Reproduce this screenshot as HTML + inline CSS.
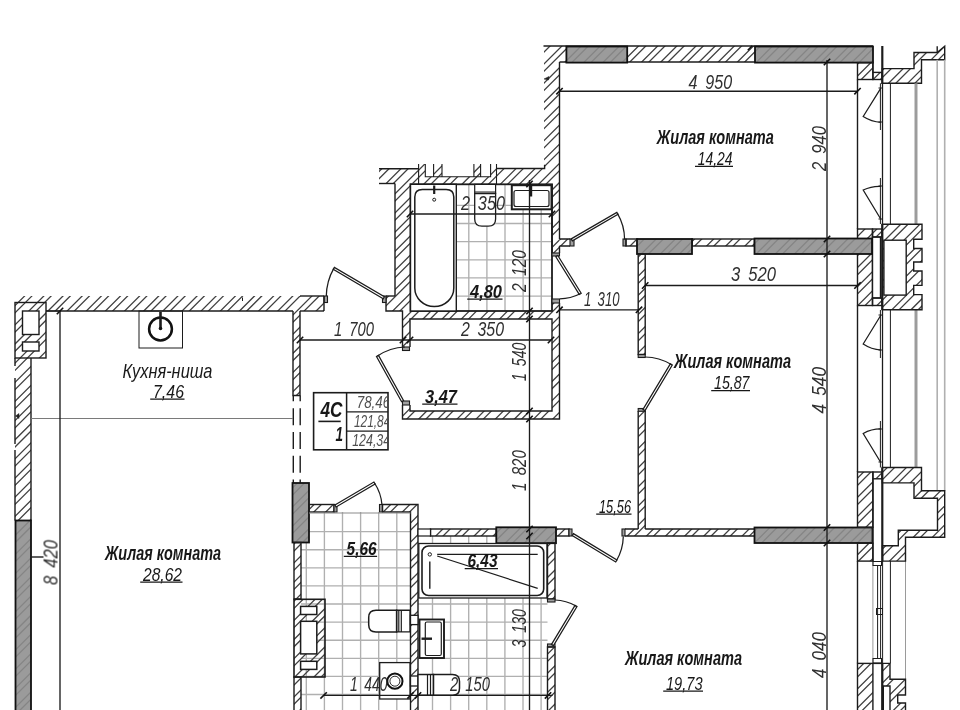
<!DOCTYPE html>
<html><head><meta charset="utf-8"><title>Plan</title>
<style>
html,body{margin:0;padding:0;background:#fff;}
body{width:960px;height:710px;overflow:hidden;font-family:"Liberation Sans",sans-serif;}
svg{display:block}
text{font-family:"Liberation Sans",sans-serif;font-style:italic;}
</style></head><body>
<svg width="960" height="710" viewBox="0 0 960 710">
<defs>
<clipPath id="cw">
<path d="M544,46 L559.5,46 L559.5,184 L552,184 L552,168.5 L544.6,168.5 L544.6,164.7 L544,164.7 Z"/>
<rect x="544" y="46" width="329" height="16"/>
<rect x="857.5" y="62.6" width="15.4" height="16.9"/>
<rect x="872.9" y="72.4" width="9.1" height="7.1"/>
<path d="M882.3,68.6 L914,68.6 L914,52.5 L937.2,52.5 L944.7,46.3 L944.7,59.8 L921.5,59.8 L921.5,83.3 L882.3,83.3 Z"/>
<rect x="857.5" y="229" width="15.0" height="76.5"/>
<rect x="872.5" y="229" width="9.5" height="8"/>
<rect x="872.5" y="298" width="9.5" height="7.5"/>
<path d="M882.3,224.2 L922,224.2 L922,239.3 L913.7,239.3 L913.7,248.5 L922,248.5 L922,262 L913.7,262 L913.7,271 L922,271 L922,285.4 L913.7,285.4 L913.7,294.6 L922,294.6 L922,309.7 L882.3,309.7 Z"/>
<rect x="559.5" y="239" width="10.5" height="7"/>
<rect x="626" y="239" width="11.5" height="7"/>
<rect x="692" y="239" width="62.5" height="7"/>
<rect x="638.2" y="254" width="7.0" height="100.5"/>
<rect x="638.2" y="411" width="7.0" height="118"/>
<rect x="625" y="529" width="129.5" height="7"/>
<rect x="857.5" y="472" width="15.4" height="55.3"/>
<rect x="872.9" y="472" width="9.1" height="6.8"/>
<rect x="857.5" y="543.2" width="15.4" height="17.9"/>
<path d="M882.5,545.7 L898.3,545.7 L898.3,530.3 L937.5,530.3 L937.5,498.3 L914,498.3 L914,482.9 L882.3,482.9 L882.3,467.5 L921.5,467.5 L921.5,490.8 L944.7,490.8 L944.7,537.3 L905.5,537.3 L905.5,561.1 L882.5,561.1 Z"/>
<rect x="857.5" y="663.4" width="15.4" height="48.6"/>
<path d="M882.3,663.4 L890,663.4 L890,679.3 L905.5,679.3 L905.5,695 L897.7,695 L897.7,703 L905.5,703 L905.5,712 L890,712 L890,686 L883.3,686 L883.3,712 L882.3,712 Z"/>
<rect x="379" y="168.8" width="39.6" height="14.7"/>
<path d="M418.6,164 L425.3,164 L425.3,176.8 L433.6,176.8 L433.6,164 L442,164 L442,176.8 L473.9,176.8 L473.9,164 L480.6,164 L480.6,176.8 L490.6,176.8 L490.6,164 L496.5,164 L496.5,184 L418.6,184 Z"/>
<rect x="496.5" y="168.5" width="55.5" height="15.5"/>
<rect x="395" y="182" width="16" height="129"/>
<rect x="552" y="184" width="7.5" height="69"/>
<rect x="552" y="303" width="7.5" height="8"/>
<rect x="410" y="311" width="142" height="8"/>
<rect x="552" y="303" width="7.5" height="116"/>
<rect x="386" y="296" width="24" height="15"/>
<rect x="402.5" y="311" width="7.5" height="36"/>
<rect x="402.5" y="405" width="7.5" height="14"/>
<rect x="402.5" y="411" width="157.0" height="8"/>
<rect x="15" y="296" width="309" height="15"/>
<rect x="15" y="302.5" width="31" height="55.5"/>
<rect x="15" y="358" width="16" height="162.5"/>
<rect x="293" y="311" width="7" height="84.5"/>
<rect x="294" y="542.5" width="7" height="56.5"/>
<rect x="294" y="677" width="7" height="35"/>
<rect x="309" y="504.5" width="25" height="7.5"/>
<path d="M382.5,504.5 L418,504.5 L418,529 L418,712 L410.5,712 L410.5,512 L382.5,512 Z"/>
<rect x="294" y="599.3" width="31" height="77.7"/>
<rect x="430.5" y="529" width="65.8" height="7"/>
<rect x="556" y="529" width="13" height="7"/>
<rect x="547.5" y="543" width="7.5" height="56"/>
<rect x="547.5" y="647" width="7.5" height="65"/>
</clipPath>
<path id="hl" d="M15.3,-1 L-1,15.3 M34.45,-1 L-1,34.45 M53.6,-1 L-1,53.6 M72.75,-1 L-1,72.75 M91.9,-1 L-1,91.9 M111.05,-1 L-1,111.05 M130.2,-1 L-1,130.2 M149.35,-1 L-1,149.35 M168.5,-1 L-1,168.5 M187.65,-1 L-1,187.65 M206.8,-1 L-1,206.8 M225.95,-1 L-1,225.95 M245.1,-1 L-1,245.1 M264.25,-1 L-1,264.25 M283.4,-1 L-1,283.4 M302.55,-1 L-1,302.55 M321.7,-1 L-1,321.7 M340.85,-1 L-1,340.85 M360.0,-1 L-1,360.0 M379.15,-1 L-1,379.15 M398.3,-1 L-1,398.3 M417.45,-1 L-1,417.45 M436.6,-1 L-1,436.6 M455.75,-1 L-1,455.75 M474.9,-1 L-1,474.9 M494.05,-1 L-1,494.05 M513.2,-1 L-1,513.2 M532.35,-1 L-1,532.35 M551.5,-1 L-1,551.5 M570.65,-1 L-1,570.65 M589.8,-1 L-1,589.8 M608.95,-1 L-1,608.95 M628.1,-1 L-1,628.1 M647.25,-1 L-1,647.25 M666.4,-1 L-1,666.4 M685.55,-1 L-1,685.55 M704.7,-1 L-1,704.7 M723.85,-1 L-1,723.85 M743.0,-1 L-1,743.0 M762.15,-1 L-1,762.15 M781.3,-1 L-1,781.3 M800.45,-1 L-1,800.45 M819.6,-1 L-1,819.6 M838.75,-1 L-1,838.75 M857.9,-1 L-1,857.9 M877.05,-1 L-1,877.05 M896.2,-1 L-1,896.2 M915.35,-1 L-1,915.35 M934.5,-1 L-1,934.5 M953.65,-1 L-1,953.65 M972.8,-1 L-1,972.8 M991.95,-1 L-1,991.95 M1011.1,-1 L-1,1011.1 M1030.25,-1 L-1,1030.25 M1049.4,-1 L-1,1049.4 M1068.55,-1 L-1,1068.55 M1087.7,-1 L-1,1087.7 M1106.85,-1 L-1,1106.85 M1126.0,-1 L-1,1126.0 M1145.15,-1 L-1,1145.15 M1164.3,-1 L-1,1164.3 M1183.45,-1 L-1,1183.45 M1202.6,-1 L-1,1202.6 M1221.75,-1 L-1,1221.75 M1240.9,-1 L-1,1240.9 M1260.05,-1 L-1,1260.05 M1279.2,-1 L-1,1279.2 M1298.35,-1 L-1,1298.35 M1317.5,-1 L-1,1317.5 M1336.65,-1 L-1,1336.65 M1355.8,-1 L-1,1355.8 M1374.95,-1 L-1,1374.95 M1394.1,-1 L-1,1394.1 M1413.25,-1 L-1,1413.25 M1432.4,-1 L-1,1432.4 M1451.55,-1 L-1,1451.55 M1470.7,-1 L-1,1470.7 M1489.85,-1 L-1,1489.85 M1509.0,-1 L-1,1509.0 M1528.15,-1 L-1,1528.15 M1547.3,-1 L-1,1547.3 M1566.45,-1 L-1,1566.45 M1585.6,-1 L-1,1585.6 M1604.75,-1 L-1,1604.75 M1623.9,-1 L-1,1623.9 M1643.05,-1 L-1,1643.05 M1662.2,-1 L-1,1662.2 M3.4,-1 L-1,3.4 M22.55,-1 L-1,22.55 M41.7,-1 L-1,41.7 M60.85,-1 L-1,60.85 M80.0,-1 L-1,80.0 M99.15,-1 L-1,99.15 M118.3,-1 L-1,118.3 M137.45,-1 L-1,137.45 M156.6,-1 L-1,156.6 M175.75,-1 L-1,175.75 M194.9,-1 L-1,194.9 M214.05,-1 L-1,214.05 M233.2,-1 L-1,233.2 M252.35,-1 L-1,252.35 M271.5,-1 L-1,271.5 M290.65,-1 L-1,290.65 M309.8,-1 L-1,309.8 M328.95,-1 L-1,328.95 M348.1,-1 L-1,348.1 M367.25,-1 L-1,367.25 M386.4,-1 L-1,386.4 M405.55,-1 L-1,405.55 M424.7,-1 L-1,424.7 M443.85,-1 L-1,443.85 M463.0,-1 L-1,463.0 M482.15,-1 L-1,482.15 M501.3,-1 L-1,501.3 M520.45,-1 L-1,520.45 M539.6,-1 L-1,539.6 M558.75,-1 L-1,558.75 M577.9,-1 L-1,577.9 M597.05,-1 L-1,597.05 M616.2,-1 L-1,616.2 M635.35,-1 L-1,635.35 M654.5,-1 L-1,654.5 M673.65,-1 L-1,673.65 M692.8,-1 L-1,692.8 M711.95,-1 L-1,711.95 M731.1,-1 L-1,731.1 M750.25,-1 L-1,750.25 M769.4,-1 L-1,769.4 M788.55,-1 L-1,788.55 M807.7,-1 L-1,807.7 M826.85,-1 L-1,826.85 M846.0,-1 L-1,846.0 M865.15,-1 L-1,865.15 M884.3,-1 L-1,884.3 M903.45,-1 L-1,903.45 M922.6,-1 L-1,922.6 M941.75,-1 L-1,941.75 M960.9,-1 L-1,960.9 M980.05,-1 L-1,980.05 M999.2,-1 L-1,999.2 M1018.35,-1 L-1,1018.35 M1037.5,-1 L-1,1037.5 M1056.65,-1 L-1,1056.65 M1075.8,-1 L-1,1075.8 M1094.95,-1 L-1,1094.95 M1114.1,-1 L-1,1114.1 M1133.25,-1 L-1,1133.25 M1152.4,-1 L-1,1152.4 M1171.55,-1 L-1,1171.55 M1190.7,-1 L-1,1190.7 M1209.85,-1 L-1,1209.85 M1229.0,-1 L-1,1229.0 M1248.15,-1 L-1,1248.15 M1267.3,-1 L-1,1267.3 M1286.45,-1 L-1,1286.45 M1305.6,-1 L-1,1305.6 M1324.75,-1 L-1,1324.75 M1343.9,-1 L-1,1343.9 M1363.05,-1 L-1,1363.05 M1382.2,-1 L-1,1382.2 M1401.35,-1 L-1,1401.35 M1420.5,-1 L-1,1420.5 M1439.65,-1 L-1,1439.65 M1458.8,-1 L-1,1458.8 M1477.95,-1 L-1,1477.95 M1497.1,-1 L-1,1497.1 M1516.25,-1 L-1,1516.25 M1535.4,-1 L-1,1535.4 M1554.55,-1 L-1,1554.55 M1573.7,-1 L-1,1573.7 M1592.85,-1 L-1,1592.85 M1612.0,-1 L-1,1612.0 M1631.15,-1 L-1,1631.15 M1650.3,-1 L-1,1650.3 M1669.45,-1 L-1,1669.45 "/>
</defs>
<rect width="960" height="710" fill="#fff"/>
<path d="M306.3,512 V710 M324.4,512 V710 M342.5,512 V710 M360.6,512 V710 M378.7,512 V710 M396.8,512 V710 M301,531.6 H410.5 M301,549.7 H410.5 M301,567.8 H410.5 M301,585.9 H410.5 M301,604.0 H410.5 M301,622.1 H410.5 M301,640.2 H410.5 M301,658.3 H410.5 M301,676.4 H410.5 M301,694.5 H410.5 " stroke="#b0b0b0" stroke-width="1.35" fill="none" class="tl"/>
<path d="M432.5,598 V710 M450.6,598 V710 M468.7,598 V710 M486.8,598 V710 M504.9,598 V710 M523.0,598 V710 M541.1,598 V710 M418,604.0 H547.5 M418,622.1 H547.5 M418,640.2 H547.5 M418,658.3 H547.5 M418,676.4 H547.5 M418,694.5 H547.5 " stroke="#b0b0b0" stroke-width="1.35" fill="none" class="tl"/>
<path d="M432.5,536 V544 M450.6,536 V544 M468.7,536 V544 M486.8,536 V544 M504.9,536 V544 M523.0,536 V544 M541.1,536 V544 " stroke="#b0b0b0" stroke-width="1.35" fill="none" class="tl"/>
<path d="M468.8,184 V311 M486.9,184 V311 M505.0,184 V311 M523.1,184 V311 M541.2,184 V311 M456,205.3 H552 M456,223.5 H552 M456,241.6 H552 M456,259.8 H552 M456,277.9 H552 M456,296.1 H552 " stroke="#b0b0b0" stroke-width="1.35" fill="none" class="tl"/>
<g clip-path="url(#cw)"><use href="#hl" stroke="#404040" stroke-width="1.3" fill="none"/></g>

<line x1="543.5" y1="46" x2="873" y2="46" stroke="#1c1c1c" stroke-width="1.4" />
<line x1="559.5" y1="62" x2="857.5" y2="62" stroke="#1c1c1c" stroke-width="1.4" />
<line x1="559.5" y1="62" x2="559.5" y2="239" stroke="#1c1c1c" stroke-width="1.4" />
<clipPath id="g1"><rect x="566.4" y="46.5" width="60.8" height="16.1"/></clipPath>
<rect x="566.4" y="46.5" width="60.8" height="16.1" fill="#9b9b9b"/>
<use href="#hl" clip-path="url(#g1)" stroke="#858585" stroke-width="1.3" fill="none"/>
<rect x="566.4" y="46.5" width="60.8" height="16.1" fill="none" stroke="#111" stroke-width="1.8"/>
<clipPath id="g2"><rect x="755" y="46.5" width="118" height="16.1"/></clipPath>
<rect x="755" y="46.5" width="118" height="16.1" fill="#9b9b9b"/>
<use href="#hl" clip-path="url(#g2)" stroke="#858585" stroke-width="1.3" fill="none"/>
<rect x="755" y="46.5" width="118" height="16.1" fill="none" stroke="#111" stroke-width="1.8"/>
<path d="M544,79 L549,76.5 L548.5,80 Z" stroke="#1c1c1c" stroke-width="0.5" fill="#222" />
<rect x="857.5" y="62.6" width="15.4" height="16.9" fill="none" stroke="#1c1c1c" stroke-width="1.4"/>
<rect x="872.9" y="72.4" width="9.1" height="7.1" fill="none" stroke="#1c1c1c" stroke-width="1.4"/>
<line x1="872.9" y1="62" x2="872.9" y2="72.4" stroke="#1c1c1c" stroke-width="1.4" />
<path d="M882.3,68.6 L914,68.6 L914,52.5 L937.2,52.5 L944.7,46.3 L944.7,59.8 L921.5,59.8 L921.5,83.3 L882.3,83.3 Z" fill="none" stroke="#1c1c1c" stroke-width="1.4"/>
<line x1="937.2" y1="46.3" x2="937.2" y2="52.5" stroke="#1c1c1c" stroke-width="1.4" />
<line x1="882.3" y1="46" x2="882.3" y2="84" stroke="#1c1c1c" stroke-width="2.2" />
<line x1="916" y1="83.3" x2="916" y2="224" stroke="#9c9c9c" stroke-width="3" />
<line x1="916" y1="310" x2="916" y2="467.5" stroke="#9c9c9c" stroke-width="3" />
<line x1="937.2" y1="59.8" x2="937.2" y2="490.8" stroke="#b0b0b0" stroke-width="1.6" />
<line x1="944.7" y1="59.8" x2="944.7" y2="490.8" stroke="#b0b0b0" stroke-width="1.6" />
<line x1="857.5" y1="79.5" x2="857.5" y2="229" stroke="#1c1c1c" stroke-width="1.4" />
<line x1="857.5" y1="305.5" x2="857.5" y2="472" stroke="#1c1c1c" stroke-width="1.4" />
<line x1="857.5" y1="561" x2="857.5" y2="663.4" stroke="#1c1c1c" stroke-width="1.4" />
<line x1="882.5" y1="83.3" x2="882.5" y2="224" stroke="#1c1c1c" stroke-width="1.3" />
<line x1="890.4" y1="83.3" x2="890.4" y2="224" stroke="#1c1c1c" stroke-width="1" />
<line x1="882.5" y1="310" x2="882.5" y2="467.5" stroke="#1c1c1c" stroke-width="1.3" />
<line x1="890.4" y1="310" x2="890.4" y2="467.5" stroke="#1c1c1c" stroke-width="1" />
<line x1="880.4" y1="83.3" x2="880.4" y2="130" stroke="#1c1c1c" stroke-width="1" />
<line x1="880.4" y1="178" x2="880.4" y2="224" stroke="#1c1c1c" stroke-width="1" />
<line x1="880.4" y1="310" x2="880.4" y2="358" stroke="#1c1c1c" stroke-width="1" />
<line x1="880.4" y1="421" x2="880.4" y2="467.5" stroke="#1c1c1c" stroke-width="1" />
<line x1="872.9" y1="561" x2="872.9" y2="663.4" stroke="#9a9a9a" stroke-width="1" />
<line x1="905.5" y1="561" x2="905.5" y2="679.3" stroke="#9a9a9a" stroke-width="1" />
<line x1="890.4" y1="561" x2="890.4" y2="663.4" stroke="#1c1c1c" stroke-width="1" />
<line x1="877.6" y1="566" x2="877.6" y2="659" stroke="#1c1c1c" stroke-width="1" />
<line x1="880.6" y1="566" x2="880.6" y2="659" stroke="#1c1c1c" stroke-width="1" />
<line x1="882.6" y1="561" x2="882.6" y2="663.4" stroke="#1c1c1c" stroke-width="1" />
<rect x="873" y="561.5" width="8.5" height="4.0" stroke="#1c1c1c" stroke-width="1" fill="none" />
<rect x="873" y="658.5" width="8.5" height="4.5" stroke="#1c1c1c" stroke-width="1" fill="none" />
<rect x="876.5" y="608.5" width="6.0" height="6.0" stroke="#1c1c1c" stroke-width="1" fill="none" />
<path d="M880.7,88.3 L863.2,116.5 A36,36 0 0 0 881,122.3" stroke="#1c1c1c" stroke-width="1.25" fill="none" />
<path d="M881,219.5 L863.2,190 A36,36 0 0 1 881,186.3" stroke="#1c1c1c" stroke-width="1.25" fill="none" />
<path d="M881,315 L863.2,344 A36,36 0 0 0 881,350" stroke="#1c1c1c" stroke-width="1.25" fill="none" />
<path d="M880.5,462 L863.2,433.5 A36,36 0 0 1 881,429" stroke="#1c1c1c" stroke-width="1.25" fill="none" />
<line x1="878.5" y1="88" x2="882.5" y2="88" stroke="#1c1c1c" stroke-width="1" />
<line x1="878.5" y1="122" x2="882.5" y2="122" stroke="#1c1c1c" stroke-width="1" />
<line x1="878.5" y1="186" x2="882.5" y2="186" stroke="#1c1c1c" stroke-width="1" />
<line x1="878.5" y1="219" x2="882.5" y2="219" stroke="#1c1c1c" stroke-width="1" />
<line x1="878.5" y1="315" x2="882.5" y2="315" stroke="#1c1c1c" stroke-width="1" />
<line x1="878.5" y1="350" x2="882.5" y2="350" stroke="#1c1c1c" stroke-width="1" />
<line x1="878.5" y1="429" x2="882.5" y2="429" stroke="#1c1c1c" stroke-width="1" />
<line x1="878.5" y1="462" x2="882.5" y2="462" stroke="#1c1c1c" stroke-width="1" />
<rect x="857.5" y="229" width="15.0" height="76.5" fill="none" stroke="#1c1c1c" stroke-width="1.4"/>
<rect x="872.5" y="237" width="8.0" height="61" stroke="#1c1c1c" stroke-width="1.4" fill="#fff" />
<rect x="872.5" y="229" width="9.5" height="8" fill="none" stroke="#1c1c1c" stroke-width="1.4"/>
<rect x="872.5" y="298" width="9.5" height="7.5" fill="none" stroke="#1c1c1c" stroke-width="1.4"/>
<path d="M882.3,224.2 L922,224.2 L922,239.3 L913.7,239.3 L913.7,248.5 L922,248.5 L922,262 L913.7,262 L913.7,271 L922,271 L922,285.4 L913.7,285.4 L913.7,294.6 L922,294.6 L922,309.7 L882.3,309.7 Z" fill="none" stroke="#1c1c1c" stroke-width="1.4"/>
<rect x="883.9" y="240.2" width="22.3" height="54.9" stroke="#1c1c1c" stroke-width="1.4" fill="#fff" />
<line x1="882.3" y1="224" x2="882.3" y2="310" stroke="#1c1c1c" stroke-width="2.2" />
<path d="M559.5,239 H570 M559.5,246 H570 M559.5,246 V253" stroke="#1c1c1c" stroke-width="1.4" fill="none" />
<rect x="570" y="239" width="4" height="7" stroke="#1c1c1c" stroke-width="1.1" fill="#a0a0a0" />
<rect x="623" y="239" width="3" height="7" stroke="#1c1c1c" stroke-width="1.1" fill="#a0a0a0" />
<rect x="626" y="239" width="11.5" height="7" fill="none" stroke="#1c1c1c" stroke-width="1.4"/>
<rect x="692" y="239" width="62.5" height="7" fill="none" stroke="#1c1c1c" stroke-width="1.4"/>
<clipPath id="g3"><rect x="637" y="239" width="55" height="15"/></clipPath>
<rect x="637" y="239" width="55" height="15" fill="#9b9b9b"/>
<use href="#hl" clip-path="url(#g3)" stroke="#858585" stroke-width="1.3" fill="none"/>
<rect x="637" y="239" width="55" height="15" fill="none" stroke="#111" stroke-width="1.8"/>
<clipPath id="g4"><rect x="754.5" y="238.5" width="117.5" height="15.5"/></clipPath>
<rect x="754.5" y="238.5" width="117.5" height="15.5" fill="#9b9b9b"/>
<use href="#hl" clip-path="url(#g4)" stroke="#858585" stroke-width="1.3" fill="none"/>
<rect x="754.5" y="238.5" width="117.5" height="15.5" fill="none" stroke="#111" stroke-width="1.8"/>
<path d="M571.22,238.91 L616.82,212.41 L617.98,214.39 L572.38,240.89 Z" fill="#fff" stroke="#1c1c1c" stroke-width="1.25"/>
<path d="M617.4,213.4 A52,52 0 0 1 624.6,239.4" fill="none" stroke="#1c1c1c" stroke-width="1.25"/>
<rect x="638.2" y="254" width="7.0" height="100.5" fill="none" stroke="#1c1c1c" stroke-width="1.4"/>
<rect x="638.2" y="354.5" width="7.0" height="3.0" stroke="#1c1c1c" stroke-width="1.1" fill="#999" />
<line x1="638.2" y1="411" x2="638.2" y2="529" stroke="#1c1c1c" stroke-width="1.4" />
<line x1="645.2" y1="411" x2="645.2" y2="529" stroke="#1c1c1c" stroke-width="1.4" />
<rect x="638.2" y="408.5" width="7.0" height="2.8" stroke="#1c1c1c" stroke-width="1.1" fill="#999" />
<path d="M643.01,409.41 L670.31,363.91 L672.29,365.09 L644.99,410.59 Z" fill="#fff" stroke="#1c1c1c" stroke-width="1.25"/>
<path d="M671.3,364.5 A52,52 0 0 0 645.2,357" fill="none" stroke="#1c1c1c" stroke-width="1.25"/>
<path d="M625,529 H638.2 M645.2,529 H754.5 M625,536 H754.5" stroke="#1c1c1c" stroke-width="1.4" fill="none" />
<rect x="622" y="529" width="3" height="7" stroke="#1c1c1c" stroke-width="1.1" fill="#a0a0a0" />
<clipPath id="g5"><rect x="754.5" y="527.5" width="118.0" height="15.5"/></clipPath>
<rect x="754.5" y="527.5" width="118.0" height="15.5" fill="#9b9b9b"/>
<use href="#hl" clip-path="url(#g5)" stroke="#858585" stroke-width="1.3" fill="none"/>
<rect x="754.5" y="527.5" width="118.0" height="15.5" fill="none" stroke="#111" stroke-width="1.8"/>
<rect x="857.5" y="472" width="15.4" height="55.3" fill="none" stroke="#1c1c1c" stroke-width="1.4"/>
<rect x="872.9" y="472" width="9.1" height="6.8" fill="none" stroke="#1c1c1c" stroke-width="1.4"/>
<line x1="872.9" y1="478.8" x2="872.9" y2="561" stroke="#1c1c1c" stroke-width="1.4" />
<rect x="857.5" y="543.2" width="15.4" height="17.9" fill="none" stroke="#1c1c1c" stroke-width="1.4"/>
<path d="M882.5,545.7 L898.3,545.7 L898.3,530.3 L937.5,530.3 L937.5,498.3 L914,498.3 L914,482.9 L882.3,482.9 L882.3,467.5 L921.5,467.5 L921.5,490.8 L944.7,490.8 L944.7,537.3 L905.5,537.3 L905.5,561.1 L882.5,561.1 Z" fill="none" stroke="#1c1c1c" stroke-width="1.4"/>
<line x1="882.3" y1="467.5" x2="882.3" y2="561.1" stroke="#1c1c1c" stroke-width="2.2" />
<rect x="857.5" y="663.4" width="15.4" height="48.6" fill="none" stroke="#1c1c1c" stroke-width="1.4"/>
<line x1="872.9" y1="663.4" x2="882" y2="663.4" stroke="#1c1c1c" stroke-width="1.4" />
<path d="M882.3,663.4 L890,663.4 L890,679.3 L905.5,679.3 L905.5,695 L897.7,695 L897.7,703 L905.5,703 L905.5,712 L890,712 L890,686 L883.3,686 L883.3,712 L882.3,712 Z" fill="none" stroke="#1c1c1c" stroke-width="1.4"/>
<line x1="882.3" y1="663.4" x2="882.3" y2="712" stroke="#1c1c1c" stroke-width="2.2" />
<path d="M425.3,164 V176.8 H433.6 V164 M433.6,176.8 H442 M442,164 V176.8 H473.9 V164 M473.9,176.8 H480.6 M480.6,164 V176.8 H490.6 V164" stroke="#1c1c1c" stroke-width="1.1" fill="none" />
<line x1="418.6" y1="164" x2="418.6" y2="184" stroke="#1c1c1c" stroke-width="1.1" />
<line x1="496.5" y1="164" x2="496.5" y2="184" stroke="#1c1c1c" stroke-width="1.1" />
<line x1="379" y1="168.8" x2="418.6" y2="168.8" stroke="#1c1c1c" stroke-width="1.4" />
<line x1="379" y1="183.5" x2="395" y2="183.5" stroke="#1c1c1c" stroke-width="1.4" />
<line x1="395" y1="183.5" x2="395" y2="296" stroke="#1c1c1c" stroke-width="1.4" />
<path d="M496.5,168.5 H544.6 V164.7" stroke="#1c1c1c" stroke-width="1.4" fill="none" />
<line x1="552" y1="184" x2="552" y2="253" stroke="#1c1c1c" stroke-width="1.4" />
<rect x="410.5" y="184.3" width="141.5" height="126.7" stroke="#1c1c1c" stroke-width="1.8" fill="none" />
<rect x="410.5" y="184.3" width="45.8" height="126.7" stroke="#1c1c1c" stroke-width="1.4" fill="#fff" />
<path d="M414.8,288 V197 Q414.8,189.4 422.4,189.4 H446.2 Q453.8,189.4 453.8,197 V288 A19.5,18.5 0 0 1 414.8,288 Z" stroke="#1c1c1c" stroke-width="1.5" fill="#fff" />
<circle cx="434.2" cy="199.7" r="1.5" fill="none" stroke="#1c1c1c" stroke-width="1"/>
<line x1="434.2" y1="185.5" x2="434.2" y2="194" stroke="#1c1c1c" stroke-width="2.2" />
<path d="M474.7,184.3 H495.6 V193.5 H474.7 Z" fill="#fff" stroke="#1c1c1c" stroke-width="1.2"/>
<path d="M474.7,193.5 V219 Q474.7,226.2 482,226.2 H488.3 Q495.6,226.2 495.6,219 V193.5 Z" fill="#fff" stroke="#1c1c1c" stroke-width="1.3"/>
<line x1="474.7" y1="192" x2="495.6" y2="192" stroke="#1c1c1c" stroke-width="1" />
<rect x="511.8" y="185.2" width="39.7" height="24.1" stroke="#1c1c1c" stroke-width="2" fill="#fff" />
<rect x="514" y="190.5" width="35" height="16" rx="2" fill="#fff" stroke="#1c1c1c" stroke-width="1.2"/>
<line x1="531" y1="186" x2="531" y2="196.5" stroke="#1c1c1c" stroke-width="2.4" />
<rect x="552" y="253" width="7.5" height="3" stroke="#1c1c1c" stroke-width="1.1" fill="#a0a0a0" />
<rect x="552" y="299" width="7.5" height="4" stroke="#1c1c1c" stroke-width="1.1" fill="#a0a0a0" />
<path d="M557.78,255.49 L581.18,293.19 L579.22,294.41 L555.82,256.71 Z" fill="#fff" stroke="#1c1c1c" stroke-width="1.25"/>
<path d="M580.2,293.8 A45,45 0 0 1 559.8,298.8" fill="none" stroke="#1c1c1c" stroke-width="1.25"/>
<path d="M386,296 V311 H402.5 V347" stroke="#1c1c1c" stroke-width="1.4" fill="none" />
<line x1="386" y1="296" x2="395" y2="296" stroke="#1c1c1c" stroke-width="1.4" />
<rect x="382.5" y="296" width="3.5" height="6.5" stroke="#1c1c1c" stroke-width="1.1" fill="#a0a0a0" />
<rect x="324" y="296" width="3.5" height="6.5" stroke="#1c1c1c" stroke-width="1.1" fill="#a0a0a0" />
<path d="M383.22,298.79 L333.22,269.39 L334.38,267.41 L384.38,296.81 Z" fill="#fff" stroke="#1c1c1c" stroke-width="1.25"/>
<path d="M333.8,268.4 A58,58 0 0 0 326.3,296" fill="none" stroke="#1c1c1c" stroke-width="1.25"/>
<rect x="402.5" y="347" width="7.0" height="3.5" stroke="#1c1c1c" stroke-width="1.1" fill="#a0a0a0" />
<rect x="402.5" y="401" width="7.0" height="4" stroke="#1c1c1c" stroke-width="1.1" fill="#a0a0a0" />
<path d="M402.5,405 V419 H559.5 V303" stroke="#1c1c1c" stroke-width="1.4" fill="none" />
<path d="M410,405 V411 H552 V319 H410 V347" stroke="#1c1c1c" stroke-width="1.4" fill="none" />
<path d="M401.49,401.56 L376.49,356.56 L378.51,355.44 L403.51,400.44 Z" fill="#fff" stroke="#1c1c1c" stroke-width="1.25"/>
<path d="M377.5,356 A52,52 0 0 1 405,347" fill="none" stroke="#1c1c1c" stroke-width="1.25"/>
<line x1="46" y1="311" x2="293" y2="311" stroke="#1c1c1c" stroke-width="1.4" />
<line x1="300" y1="296" x2="324" y2="296" stroke="#1c1c1c" stroke-width="1.4" />
<line x1="300" y1="311" x2="324" y2="311" stroke="#1c1c1c" stroke-width="1.4" />
<line x1="324" y1="296" x2="324" y2="311" stroke="#1c1c1c" stroke-width="1.4" />
<line x1="242.5" y1="297.5" x2="242.5" y2="301" stroke="#1c1c1c" stroke-width="1" />
<rect x="15" y="302.5" width="31" height="55.5" fill="none" stroke="#1c1c1c" stroke-width="1.4"/>
<rect x="22.5" y="311" width="16.5" height="23.5" stroke="#1c1c1c" stroke-width="1.4" fill="#fff" />
<rect x="22.5" y="342" width="16.5" height="9" stroke="#1c1c1c" stroke-width="1.4" fill="#fff" />
<line x1="31" y1="358" x2="31" y2="520.5" stroke="#1c1c1c" stroke-width="1.4" />
<path d="M15,358 V366 M15,378 V444 M15,450 V520.5" stroke="#1c1c1c" stroke-width="1.4" fill="none" />
<clipPath id="g6"><rect x="15.5" y="520.5" width="15.5" height="191.5"/></clipPath>
<rect x="15.5" y="520.5" width="15.5" height="191.5" fill="#9b9b9b"/>
<use href="#hl" clip-path="url(#g6)" stroke="#858585" stroke-width="1.3" fill="none"/>
<rect x="15.5" y="520.5" width="15.5" height="191.5" fill="none" stroke="#111" stroke-width="1.8"/>
<line x1="31" y1="557" x2="43.5" y2="557" stroke="#1c1c1c" stroke-width="1.4" />
<path d="M15.5,416 L19,413.5 L19,418.5 Z" stroke="#1c1c1c" stroke-width="0.5" fill="#222" />
<path d="M293,311 V395.5 H300 V311" stroke="#1c1c1c" stroke-width="1.4" fill="none" />
<line x1="293.3" y1="395.5" x2="293.3" y2="401.3" stroke="#1c1c1c" stroke-width="1.4" />
<line x1="293.3" y1="408.3" x2="293.3" y2="483" stroke="#1c1c1c" stroke-width="1.4" stroke-dasharray="17 6.7"/>
<line x1="300.2" y1="395.5" x2="300.2" y2="401.3" stroke="#1c1c1c" stroke-width="1.4" />
<line x1="300.2" y1="408.3" x2="300.2" y2="483" stroke="#1c1c1c" stroke-width="1.4" stroke-dasharray="17 6.7"/>
<clipPath id="g7"><rect x="292.5" y="483" width="16.5" height="59.5"/></clipPath>
<rect x="292.5" y="483" width="16.5" height="59.5" fill="#9b9b9b"/>
<use href="#hl" clip-path="url(#g7)" stroke="#858585" stroke-width="1.3" fill="none"/>
<rect x="292.5" y="483" width="16.5" height="59.5" fill="none" stroke="#111" stroke-width="1.8"/>
<rect x="294" y="542.5" width="7" height="56.5" fill="none" stroke="#1c1c1c" stroke-width="1.4"/>
<rect x="294" y="677" width="7" height="35" fill="none" stroke="#1c1c1c" stroke-width="1.4"/>
<line x1="31" y1="418.5" x2="293" y2="418.5" stroke="#7a7a7a" stroke-width="1.1" />
<rect x="139" y="311" width="43.5" height="37" stroke="#1c1c1c" stroke-width="1" fill="none" />
<circle cx="160.5" cy="329" r="11.4" fill="none" stroke="#111" stroke-width="2.5"/>
<line x1="160.5" y1="312" x2="160.5" y2="328" stroke="#1c1c1c" stroke-width="2.6" />
<circle cx="160.5" cy="328.5" r="1.8" fill="#111"/>
<rect x="309" y="504.5" width="25" height="7.5" fill="none" stroke="#1c1c1c" stroke-width="1.4"/>
<rect x="334" y="504.5" width="3" height="7.5" stroke="#1c1c1c" stroke-width="1.1" fill="#a0a0a0" />
<rect x="379.5" y="504.5" width="3.0" height="7.5" stroke="#1c1c1c" stroke-width="1.1" fill="#a0a0a0" />
<path d="M382.5,504.5 L418,504.5 L418,529 L418,712 L410.5,712 L410.5,512 L382.5,512 Z" fill="none" stroke="#1c1c1c" stroke-width="1.4"/>
<path d="M334.92,505.01 L373.92,482.01 L375.08,483.99 L336.08,506.99 Z" fill="#fff" stroke="#1c1c1c" stroke-width="1.25"/>
<path d="M374.5,483 A46,46 0 0 1 382,505" fill="none" stroke="#1c1c1c" stroke-width="1.25"/>
<line x1="309" y1="513" x2="410.5" y2="513" stroke="#8c8c8c" stroke-width="1.2" />
<rect x="294" y="599.3" width="31" height="77.7" fill="none" stroke="#1c1c1c" stroke-width="1.6"/>
<rect x="300.6" y="606.4" width="16.2" height="8.1" stroke="#1c1c1c" stroke-width="1.5" fill="#fff" />
<rect x="300.6" y="621.3" width="16.2" height="32.6" stroke="#1c1c1c" stroke-width="1.5" fill="#fff" />
<rect x="300.6" y="661.3" width="16.2" height="8.1" stroke="#1c1c1c" stroke-width="1.5" fill="#fff" />
<path d="M396.6,610.3 H410 V631.9 H396.6 Z" fill="#fff" stroke="#1c1c1c" stroke-width="1.4"/>
<line x1="398.8" y1="610.3" x2="398.8" y2="631.9" stroke="#1c1c1c" stroke-width="1.2" />
<line x1="401.3" y1="610.3" x2="401.3" y2="631.9" stroke="#1c1c1c" stroke-width="1.2" />
<path d="M396.6,610.3 H376 Q368.7,610.3 368.7,617.5 V624.7 Q368.7,631.9 376,631.9 H396.6 Z" fill="#fff" stroke="#1c1c1c" stroke-width="1.5"/>
<rect x="379.7" y="662.6" width="30.3" height="36.4" stroke="#1c1c1c" stroke-width="1.3" fill="#fff" />
<circle cx="394.9" cy="681.2" r="7.6" fill="#fff" stroke="#111" stroke-width="2"/>
<circle cx="394.9" cy="681.2" r="5" fill="none" stroke="#111" stroke-width="0.9"/>
<rect x="430.5" y="529" width="65.8" height="7" fill="none" stroke="#1c1c1c" stroke-width="1.4"/>
<rect x="418" y="529" width="12.5" height="7" stroke="#1c1c1c" stroke-width="1.2" fill="#fff" />
<clipPath id="g8"><rect x="496.3" y="527.3" width="59.7" height="15.9"/></clipPath>
<rect x="496.3" y="527.3" width="59.7" height="15.9" fill="#9b9b9b"/>
<use href="#hl" clip-path="url(#g8)" stroke="#858585" stroke-width="1.3" fill="none"/>
<rect x="496.3" y="527.3" width="59.7" height="15.9" fill="none" stroke="#111" stroke-width="1.8"/>
<rect x="556" y="529" width="13" height="7" fill="none" stroke="#1c1c1c" stroke-width="1.4"/>
<rect x="569" y="529" width="3" height="7" stroke="#1c1c1c" stroke-width="1.1" fill="#a0a0a0" />
<path d="M573.4,533.62 L616.9,560.02 L615.7,561.98 L572.2,535.58 Z" fill="#fff" stroke="#1c1c1c" stroke-width="1.25"/>
<path d="M616.3,561 A50,50 0 0 0 623.3,536.5" fill="none" stroke="#1c1c1c" stroke-width="1.25"/>
<rect x="418.8" y="543.5" width="128.2" height="54.5" stroke="#1c1c1c" stroke-width="1.3" fill="#fff" />
<rect x="422" y="546" width="121.7" height="49.5" rx="6.5" fill="#fff" stroke="#1c1c1c" stroke-width="1.6"/>
<circle cx="429.8" cy="554.4" r="1.7" fill="none" stroke="#1c1c1c" stroke-width="1"/>
<line x1="429.8" y1="561.6" x2="429.8" y2="588.8" stroke="#1c1c1c" stroke-width="1.4" />
<line x1="437.2" y1="556" x2="537.7" y2="588.4" stroke="#1c1c1c" stroke-width="1.2" />
<line x1="437.2" y1="554.4" x2="537.7" y2="554.4" stroke="#1c1c1c" stroke-width="1.2" />
<rect x="419.5" y="619.5" width="24.5" height="38.5" stroke="#1c1c1c" stroke-width="1.9" fill="#fff" />
<rect x="425.3" y="622" width="16" height="33.5" rx="1.5" fill="#fff" stroke="#1c1c1c" stroke-width="1.2"/>
<line x1="421.5" y1="638.7" x2="432" y2="638.7" stroke="#1c1c1c" stroke-width="2.4" />
<rect x="410.5" y="615.3" width="7.5" height="9.3" stroke="#1c1c1c" stroke-width="1.3" fill="#fff" />
<rect x="410.5" y="676" width="7.5" height="10" stroke="#1c1c1c" stroke-width="1.3" fill="#fff" />
<path d="M418,674.5 H433.5 V695.3 H418 Z" fill="#fff" stroke="#1c1c1c" stroke-width="1.4"/>
<line x1="427.5" y1="674.5" x2="427.5" y2="695.3" stroke="#1c1c1c" stroke-width="1.2" />
<line x1="430.5" y1="674.5" x2="430.5" y2="695.3" stroke="#1c1c1c" stroke-width="1.2" />
<path d="M433.5,674.5 H452.5 Q459.5,674.5 459.5,681.5 V688.3 Q459.5,695.3 452.5,695.3 H433.5 Z" fill="#fff" stroke="#1c1c1c" stroke-width="1.5"/>
<rect x="547.5" y="543" width="7.5" height="56" fill="none" stroke="#1c1c1c" stroke-width="1.4"/>
<rect x="547.5" y="599" width="7.5" height="3" stroke="#1c1c1c" stroke-width="1.1" fill="#a0a0a0" />
<rect x="547.5" y="644" width="7.5" height="3" stroke="#1c1c1c" stroke-width="1.1" fill="#a0a0a0" />
<rect x="547.5" y="647" width="7.5" height="65" fill="none" stroke="#1c1c1c" stroke-width="1.4"/>
<path d="M551.51,644.41 L575.01,605.41 L576.99,606.59 L553.49,645.59 Z" fill="#fff" stroke="#1c1c1c" stroke-width="1.25"/>
<path d="M576,606 A46,46 0 0 0 555,600" fill="none" stroke="#1c1c1c" stroke-width="1.25"/>
<rect x="313.6" y="392.7" width="74.4" height="57.1" stroke="#1c1c1c" stroke-width="1.6" fill="#fff" />
<line x1="346.6" y1="392.7" x2="346.6" y2="449.8" stroke="#1c1c1c" stroke-width="1.5" />
<line x1="346.6" y1="411.8" x2="388" y2="411.8" stroke="#1c1c1c" stroke-width="1.3" />
<line x1="346.6" y1="431.2" x2="388" y2="431.2" stroke="#1c1c1c" stroke-width="1.3" />
<line x1="318.4" y1="421.4" x2="340.7" y2="421.4" stroke="#1c1c1c" stroke-width="1.6" />
<line x1="559.5" y1="91.2" x2="857.5" y2="91.2" stroke="#1c1c1c" stroke-width="1.35" />
<line x1="556.3" y1="94.4" x2="562.7" y2="88.0" stroke="#111" stroke-width="1.6"/>
<line x1="854.3" y1="94.4" x2="860.7" y2="88.0" stroke="#111" stroke-width="1.6"/>
<line x1="827" y1="60" x2="827" y2="712" stroke="#1c1c1c" stroke-width="1.35" />
<line x1="823.8" y1="65.2" x2="830.2" y2="58.8" stroke="#111" stroke-width="1.6"/>
<line x1="823.8" y1="242.2" x2="830.2" y2="235.8" stroke="#111" stroke-width="1.6"/>
<line x1="823.8" y1="257.2" x2="830.2" y2="250.8" stroke="#111" stroke-width="1.6"/>
<line x1="823.8" y1="530.7" x2="830.2" y2="524.3" stroke="#111" stroke-width="1.6"/>
<line x1="823.8" y1="546.2" x2="830.2" y2="539.8" stroke="#111" stroke-width="1.6"/>
<line x1="747.8" y1="50.2" x2="752.2" y2="45.8" stroke="#111" stroke-width="1.6"/>
<line x1="645.2" y1="285.5" x2="857.5" y2="285.5" stroke="#1c1c1c" stroke-width="1.35" />
<line x1="642.0" y1="288.7" x2="648.4000000000001" y2="282.3" stroke="#111" stroke-width="1.6"/>
<line x1="854.3" y1="288.7" x2="860.7" y2="282.3" stroke="#111" stroke-width="1.6"/>
<line x1="559.5" y1="309.8" x2="639" y2="309.8" stroke="#1c1c1c" stroke-width="1.35" />
<line x1="556.3" y1="313.0" x2="562.7" y2="306.6" stroke="#111" stroke-width="1.6"/>
<line x1="635.8" y1="313.0" x2="642.2" y2="306.6" stroke="#111" stroke-width="1.6"/>
<line x1="410" y1="214" x2="552" y2="214" stroke="#1c1c1c" stroke-width="1.35" />
<line x1="406.8" y1="217.2" x2="413.2" y2="210.8" stroke="#111" stroke-width="1.6"/>
<line x1="548.8" y1="217.2" x2="555.2" y2="210.8" stroke="#111" stroke-width="1.6"/>
<line x1="529.5" y1="180" x2="529.5" y2="712" stroke="#1c1c1c" stroke-width="1.35" />
<line x1="526.3" y1="187.2" x2="532.7" y2="180.8" stroke="#111" stroke-width="1.6"/>
<line x1="526.3" y1="314.2" x2="532.7" y2="307.8" stroke="#111" stroke-width="1.6"/>
<line x1="526.3" y1="322.2" x2="532.7" y2="315.8" stroke="#111" stroke-width="1.6"/>
<line x1="526.3" y1="414.2" x2="532.7" y2="407.8" stroke="#111" stroke-width="1.6"/>
<line x1="526.3" y1="422.2" x2="532.7" y2="415.8" stroke="#111" stroke-width="1.6"/>
<line x1="526.3" y1="532.2" x2="532.7" y2="525.8" stroke="#111" stroke-width="1.6"/>
<line x1="526.3" y1="539.2" x2="532.7" y2="532.8" stroke="#111" stroke-width="1.6"/>
<line x1="300" y1="340" x2="551" y2="340" stroke="#1c1c1c" stroke-width="1.35" />
<line x1="296.8" y1="343.2" x2="303.2" y2="336.8" stroke="#111" stroke-width="1.6"/>
<line x1="399.8" y1="343.2" x2="406.2" y2="336.8" stroke="#111" stroke-width="1.6"/>
<line x1="406.8" y1="343.2" x2="413.2" y2="336.8" stroke="#111" stroke-width="1.6"/>
<line x1="547.8" y1="343.2" x2="554.2" y2="336.8" stroke="#111" stroke-width="1.6"/>
<line x1="60" y1="311" x2="60" y2="712" stroke="#1c1c1c" stroke-width="1.35" />
<line x1="56.8" y1="314.2" x2="63.2" y2="307.8" stroke="#111" stroke-width="1.6"/>
<line x1="46" y1="311" x2="60" y2="311" stroke="#1c1c1c" stroke-width="1" />
<line x1="323.6" y1="695.4" x2="552.5" y2="695.4" stroke="#1c1c1c" stroke-width="1.35" />
<line x1="320.40000000000003" y1="698.6" x2="326.8" y2="692.1999999999999" stroke="#111" stroke-width="1.6"/>
<line x1="407.3" y1="698.6" x2="413.7" y2="692.1999999999999" stroke="#111" stroke-width="1.6"/>
<line x1="414.8" y1="698.6" x2="421.2" y2="692.1999999999999" stroke="#111" stroke-width="1.6"/>
<line x1="544.8" y1="698.6" x2="551.2" y2="692.1999999999999" stroke="#111" stroke-width="1.6"/>
<clipPath id="bx"><rect x="347" y="393" width="40.3" height="56.5"/></clipPath>
<g opacity="0.97">
<text x="688.6" y="88.5" font-size="20" font-weight="normal" fill="#2a2a2a" text-anchor="start" textLength="43.5" lengthAdjust="spacingAndGlyphs" word-spacing="4">4 950</text>
<text x="731" y="280.5" font-size="20" font-weight="normal" fill="#2a2a2a" text-anchor="start" textLength="45" lengthAdjust="spacingAndGlyphs" word-spacing="4">3 520</text>
<text x="584" y="306" font-size="20" font-weight="normal" fill="#2a2a2a" text-anchor="start" textLength="35.5" lengthAdjust="spacingAndGlyphs" word-spacing="4">1 310</text>
<text x="461" y="210" font-size="20" font-weight="normal" fill="#2a2a2a" text-anchor="start" textLength="44" lengthAdjust="spacingAndGlyphs" word-spacing="4">2 350</text>
<text x="334" y="336" font-size="20" font-weight="normal" fill="#2a2a2a" text-anchor="start" textLength="40" lengthAdjust="spacingAndGlyphs" word-spacing="4">1 700</text>
<text x="461" y="336" font-size="20" font-weight="normal" fill="#2a2a2a" text-anchor="start" textLength="43" lengthAdjust="spacingAndGlyphs" word-spacing="4">2 350</text>
<text x="350" y="691" font-size="20" font-weight="normal" fill="#2a2a2a" text-anchor="start" textLength="37.5" lengthAdjust="spacingAndGlyphs" word-spacing="4">1 440</text>
<text x="450" y="691" font-size="20" font-weight="normal" fill="#2a2a2a" text-anchor="start" textLength="40" lengthAdjust="spacingAndGlyphs" word-spacing="4">2 150</text>
<text x="825.5" y="171" font-size="20" font-weight="normal" fill="#2a2a2a" text-anchor="start" textLength="45" lengthAdjust="spacingAndGlyphs" word-spacing="4" transform="rotate(-90 825.5 171)">2 940</text>
<text x="825.5" y="413.5" font-size="20" font-weight="normal" fill="#2a2a2a" text-anchor="start" textLength="46.5" lengthAdjust="spacingAndGlyphs" word-spacing="4" transform="rotate(-90 825.5 413.5)">4 540</text>
<text x="825.5" y="678" font-size="20" font-weight="normal" fill="#2a2a2a" text-anchor="start" textLength="46" lengthAdjust="spacingAndGlyphs" word-spacing="4" transform="rotate(-90 825.5 678)">4 040</text>
<text x="526" y="292" font-size="20" font-weight="normal" fill="#2a2a2a" text-anchor="start" textLength="42" lengthAdjust="spacingAndGlyphs" word-spacing="4" transform="rotate(-90 526 292)">2 120</text>
<text x="526" y="381" font-size="20" font-weight="normal" fill="#2a2a2a" text-anchor="start" textLength="38.5" lengthAdjust="spacingAndGlyphs" word-spacing="4" transform="rotate(-90 526 381)">1 540</text>
<text x="526" y="491" font-size="20" font-weight="normal" fill="#2a2a2a" text-anchor="start" textLength="41" lengthAdjust="spacingAndGlyphs" word-spacing="4" transform="rotate(-90 526 491)">1 820</text>
<text x="526" y="647.5" font-size="20" font-weight="normal" fill="#2a2a2a" text-anchor="start" textLength="38.5" lengthAdjust="spacingAndGlyphs" word-spacing="4" transform="rotate(-90 526 647.5)">3 130</text>
<text x="57.5" y="585" font-size="20" font-weight="normal" fill="#2a2a2a" text-anchor="start" textLength="45" lengthAdjust="spacingAndGlyphs" word-spacing="4" transform="rotate(-90 57.5 585)">8 420</text>
<text x="656.8" y="144.3" font-size="20.6" font-weight="bold" fill="#111" text-anchor="start" textLength="117" lengthAdjust="spacingAndGlyphs">Жилая комната</text>
<text x="697.8" y="164.7" font-size="19" font-weight="normal" fill="#111" text-anchor="start" textLength="34.7" lengthAdjust="spacingAndGlyphs">14,24</text>
<line x1="695.0" y1="166.29999999999998" x2="733.0" y2="166.29999999999998" stroke="#111" stroke-width="1.3"/>
<text x="674" y="367.8" font-size="20.6" font-weight="bold" fill="#111" text-anchor="start" textLength="117" lengthAdjust="spacingAndGlyphs">Жилая комната</text>
<text x="714" y="389" font-size="19" font-weight="normal" fill="#111" text-anchor="start" textLength="35.5" lengthAdjust="spacingAndGlyphs">15,87</text>
<line x1="711.2" y1="390.6" x2="750.0" y2="390.6" stroke="#111" stroke-width="1.3"/>
<text x="625" y="665.3" font-size="20.6" font-weight="bold" fill="#111" text-anchor="start" textLength="117" lengthAdjust="spacingAndGlyphs">Жилая комната</text>
<text x="666" y="689.5" font-size="19" font-weight="normal" fill="#111" text-anchor="start" textLength="36.5" lengthAdjust="spacingAndGlyphs">19,73</text>
<line x1="663.2" y1="691.1" x2="703.0" y2="691.1" stroke="#111" stroke-width="1.3"/>
<text x="105" y="560.3" font-size="20.6" font-weight="bold" fill="#111" text-anchor="start" textLength="116" lengthAdjust="spacingAndGlyphs">Жилая комната</text>
<text x="143" y="580.5" font-size="19" font-weight="normal" fill="#111" text-anchor="start" textLength="39" lengthAdjust="spacingAndGlyphs">28,62</text>
<line x1="140.2" y1="582.1" x2="182.5" y2="582.1" stroke="#111" stroke-width="1.3"/>
<text x="122.5" y="378.3" font-size="20.6" font-weight="normal" fill="#111" text-anchor="start" textLength="90" lengthAdjust="spacingAndGlyphs">Кухня-ниша</text>
<text x="153" y="397.5" font-size="19" font-weight="normal" fill="#111" text-anchor="start" textLength="31" lengthAdjust="spacingAndGlyphs">7,46</text>
<line x1="150.2" y1="399.1" x2="184.5" y2="399.1" stroke="#111" stroke-width="1.3"/>
<text x="470" y="297.5" font-size="19" font-weight="bold" fill="#111" text-anchor="start" textLength="32" lengthAdjust="spacingAndGlyphs">4,80</text>
<line x1="467.2" y1="299.1" x2="502.5" y2="299.1" stroke="#111" stroke-width="1.3"/>
<text x="425" y="402.5" font-size="19" font-weight="bold" fill="#111" text-anchor="start" textLength="32" lengthAdjust="spacingAndGlyphs">3,47</text>
<line x1="422.2" y1="404.1" x2="457.5" y2="404.1" stroke="#111" stroke-width="1.3"/>
<text x="346.6" y="554.7" font-size="19" font-weight="bold" fill="#111" text-anchor="start" textLength="30" lengthAdjust="spacingAndGlyphs">5,66</text>
<line x1="343.8" y1="556.3000000000001" x2="377.1" y2="556.3000000000001" stroke="#111" stroke-width="1.3"/>
<text x="467.5" y="567" font-size="19" font-weight="bold" fill="#111" text-anchor="start" textLength="30" lengthAdjust="spacingAndGlyphs">6,43</text>
<line x1="464.7" y1="568.6" x2="498.0" y2="568.6" stroke="#111" stroke-width="1.3"/>
<text x="599" y="512.5" font-size="19" font-weight="normal" fill="#111" text-anchor="start" textLength="32" lengthAdjust="spacingAndGlyphs">15,56</text>
<line x1="596.2" y1="514.1" x2="631.5" y2="514.1" stroke="#111" stroke-width="1.3"/>
<text x="320.4" y="416.8" font-size="22" font-weight="bold" fill="#111" text-anchor="start" textLength="22" lengthAdjust="spacingAndGlyphs">4C</text>
<text x="335.5" y="440.8" font-size="20.5" font-weight="bold" fill="#111" text-anchor="start" textLength="7.5" lengthAdjust="spacingAndGlyphs">1</text>
<g clip-path="url(#bx)">
<text x="356.7" y="407.9" font-size="16.6" font-weight="normal" fill="#4a4a4a" text-anchor="start" textLength="33.5" lengthAdjust="spacingAndGlyphs">78,46</text>
<text x="353.9" y="427" font-size="16.4" font-weight="normal" fill="#4a4a4a" text-anchor="start" textLength="36.5" lengthAdjust="spacingAndGlyphs">121,84</text>
<text x="352.2" y="446.2" font-size="16.4" font-weight="normal" fill="#4a4a4a" text-anchor="start" textLength="38" lengthAdjust="spacingAndGlyphs">124,34</text>
</g>
</g>
</svg>
</body></html>
